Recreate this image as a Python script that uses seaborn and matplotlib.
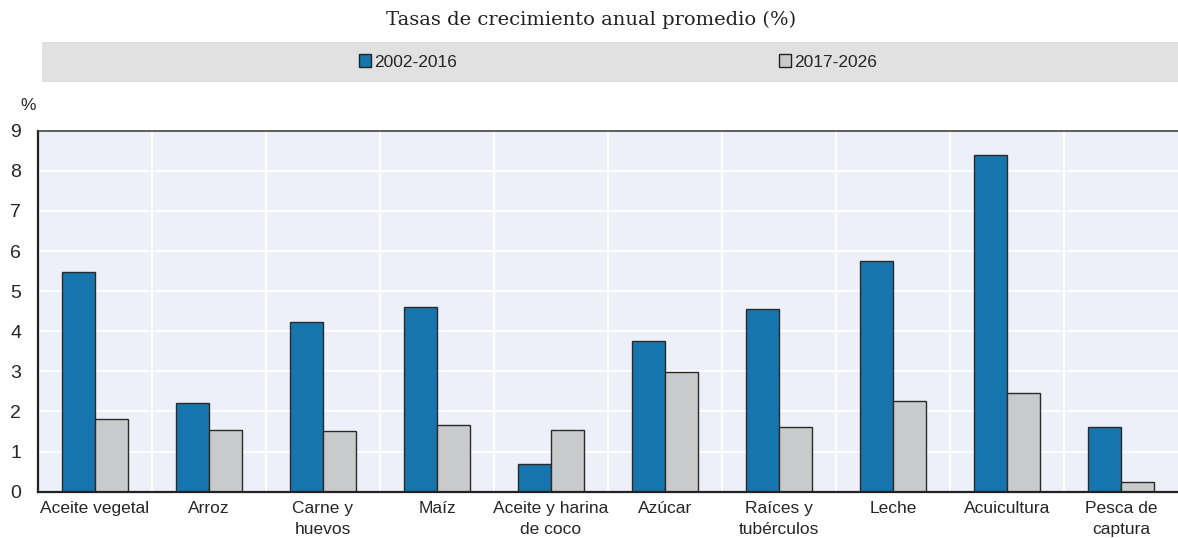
import numpy as np
import pandas as pd
import matplotlib
matplotlib.use('Agg')
import matplotlib.pyplot as plt
from matplotlib.patches import Rectangle, Patch
import seaborn as sns

# ---------------------------------------------------------------
# Data
# ---------------------------------------------------------------
categories = ['Aceite vegetal', 'Arroz', 'Carne y\nhuevos', 'Maíz',
              'Aceite y harina\nde coco', 'Azúcar', 'Raíces y\ntubérculos',
              'Leche', 'Acuicultura', 'Pesca de\ncaptura']
growth_2002_2016 = [5.48, 2.22, 4.22, 4.61, 0.68, 3.76, 4.55, 5.75, 8.40, 1.62]
growth_2017_2026 = [1.81, 1.54, 1.52, 1.66, 1.55, 2.98, 1.62, 2.27, 2.45, 0.24]
periods = ['2002-2016', '2017-2026']
y_ticks = list(range(0, 10))

df = pd.DataFrame({
    'cat': categories * 2,
    'value': growth_2002_2016 + growth_2017_2026,
    'period': [periods[0]] * len(categories) + [periods[1]] * len(categories),
})

BLUE = '#1775ad'
GREY = '#c8cacb'
PLOT_BG = '#edf0f8'

sns.set_theme(style='white')
plt.rcParams['font.family'] = ['Liberation Sans Narrow', 'Liberation Sans', 'DejaVu Sans']

fig = plt.figure(figsize=(11.78, 5.38), dpi=100)
ax = fig.add_axes([38 / 1178, 1 - 491.7 / 538, 1140 / 1178, 361 / 538])
ax.set_facecolor(PLOT_BG)

sns.barplot(data=df, x='cat', y='value', hue='period', hue_order=periods,
            palette=[BLUE, GREY], saturation=1, width=0.58, dodge=True,
            edgecolor='#2a2a2a', linewidth=1.0, legend=False, ax=ax)

ax.set_ylim(0, 9)
ax.set_xlim(-0.5, len(categories) - 0.5)
ax.set_yticks(y_ticks)
ax.set_yticklabels([str(t) for t in y_ticks], fontsize=14)
ax.set_xticks(range(len(categories)))
ax.set_xticklabels(categories, fontsize=12.5, linespacing=1.45)
ax.set_xlabel('')
ax.set_ylabel('')

# category separators
ax.set_xticks(np.arange(0.5, len(categories) - 0.5, 1), minor=True)
ax.tick_params(axis='x', which='major', length=0, pad=7)
ax.tick_params(axis='x', which='minor', direction='in', length=5, width=1.5, color='#222222')
ax.tick_params(axis='y', which='major', direction='in', length=5, width=1, color='#222222', pad=12)

ax.grid(False)
for yv in y_ticks[1:-1]:
    ax.axhline(yv, color='white', lw=1.5, zorder=0.5)
for xv in np.arange(0.5, len(categories) - 0.5, 1):
    ax.axvline(xv, color='white', lw=1.5, zorder=0.5)

for s in ['left', 'bottom']:
    ax.spines[s].set_color('#222222')
    ax.spines[s].set_linewidth(1.6)
ax.spines['top'].set_color('#444444')
ax.spines['top'].set_linewidth(1.2)
ax.spines['right'].set_visible(False)

# '%' unit label
fig.text(28 / 1178, 1 - 106 / 538, '%', fontsize=12.5, ha='center', va='center')

# title
fig.text(591 / 1178, 1 - 20 / 538, 'Tasas de crecimiento anual promedio (%)',
         family='DejaVu Serif', fontsize=14, ha='center', va='center', color='#222222')

# legend band
fig.patches.append(Rectangle((42 / 1178, 1 - 82 / 538), 1136 / 1178, 40 / 538,
                             transform=fig.transFigure, facecolor='#e1e1e1',
                             edgecolor='none', zorder=0))
handles = [Patch(facecolor=BLUE, edgecolor='#222222', linewidth=1.0),
           Patch(facecolor=GREY, edgecolor='#222222', linewidth=1.0)]
fig.legend(handles, periods, loc='center', bbox_to_anchor=(618 / 1178, 1 - 62 / 538),
           ncol=2, frameon=False, fontsize=12.5, handlelength=0.7, handleheight=0.7,
           handletextpad=0.2, columnspacing=18.5)

fig.savefig('out.png', dpi=100)
